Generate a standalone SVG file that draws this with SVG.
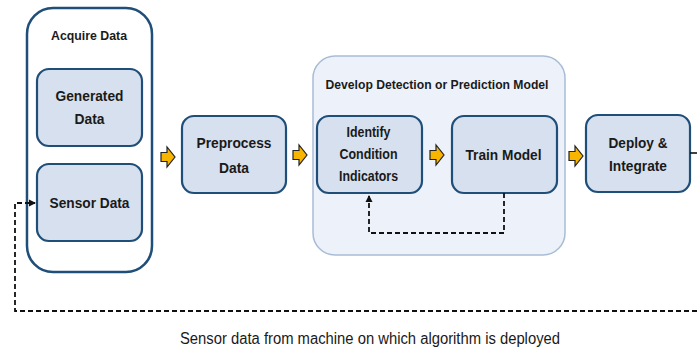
<svg xmlns="http://www.w3.org/2000/svg" width="697" height="354" viewBox="0 0 697 354">
<style>
.box{fill:#d6e0ee;stroke:#1f4e79;stroke-width:2.2}
.lbl{font-family:"Liberation Sans",Arial,sans-serif;font-weight:bold;font-size:15px;fill:#1a1a1a;text-anchor:middle}
.ttl{font-family:"Liberation Sans",Arial,sans-serif;font-weight:bold;font-size:13px;fill:#1a1a1a;text-anchor:middle}
.dash{fill:none;stroke:#111;stroke-width:1.8;stroke-dasharray:5,3}
.yarrow{fill:#f7b500;stroke:#222;stroke-width:1.2;stroke-linejoin:miter}
</style>
<defs>
<path id="ya" d="M0,-4.5 H6 V-10 L14,0 L6,10 V4.5 H0 Z"/>
<marker id="ah" markerWidth="8" markerHeight="8" refX="6" refY="4" orient="auto" markerUnits="userSpaceOnUse">
<path d="M0,0.5 L7,4 L0,7.5 Z" fill="#111"/>
</marker>
</defs>
<rect width="697" height="354" fill="#fff"/>

<g id="acquire">
<rect x="27" y="8" width="125" height="264" rx="26" fill="#fff" stroke="#1f4e79" stroke-width="2.5"/>
<text class="ttl" x="89" y="40" textLength="76" lengthAdjust="spacingAndGlyphs">Acquire Data</text>
</g>
<g id="generated">
<rect class="box" x="37" y="69" width="105" height="77" rx="12"/>
<text class="lbl" x="89.5" y="101" textLength="68" lengthAdjust="spacingAndGlyphs">Generated</text>
<text class="lbl" x="89.5" y="124" textLength="30" lengthAdjust="spacingAndGlyphs">Data</text>
</g>
<g id="sensor">
<rect class="box" x="37" y="164" width="105" height="77" rx="12"/>
<text class="lbl" x="89.5" y="208" textLength="80" lengthAdjust="spacingAndGlyphs">Sensor Data</text>
</g>
<g id="preprocess">
<rect class="box" x="182" y="116" width="104" height="77" rx="12"/>
<text class="lbl" x="234" y="148" textLength="75" lengthAdjust="spacingAndGlyphs">Preprocess</text>
<text class="lbl" x="234" y="173" textLength="30" lengthAdjust="spacingAndGlyphs">Data</text>
</g>
<g id="develop">
<rect x="313" y="56" width="252" height="199" rx="22" fill="#edf2fa" stroke="#a8bcd6" stroke-width="1.5"/>
<text class="ttl" x="437" y="89" textLength="223" lengthAdjust="spacingAndGlyphs">Develop Detection or Prediction Model</text>
</g>
<g id="identify">
<rect class="box" x="317" y="116" width="105" height="77" rx="12"/>
<text class="lbl" x="368.5" y="137" textLength="44" lengthAdjust="spacingAndGlyphs">Identify</text>
<text class="lbl" x="368.5" y="159" textLength="58" lengthAdjust="spacingAndGlyphs">Condition</text>
<text class="lbl" x="368.5" y="181" textLength="59" lengthAdjust="spacingAndGlyphs">Indicators</text>
</g>
<g id="train">
<rect class="box" x="452" y="116" width="105" height="77" rx="12"/>
<text class="lbl" x="503.5" y="160" textLength="76" lengthAdjust="spacingAndGlyphs">Train Model</text>
</g>
<g id="deploy">
<rect class="box" x="586" y="115" width="104" height="77" rx="12"/>
<text class="lbl" x="638" y="148" textLength="59" lengthAdjust="spacingAndGlyphs">Deploy &amp;</text>
<text class="lbl" x="638" y="171" textLength="58" lengthAdjust="spacingAndGlyphs">Integrate</text>
</g>

<g id="connectors">
<use href="#ya" class="yarrow" x="161" y="157"/>
<use href="#ya" class="yarrow" x="293" y="155"/>
<use href="#ya" class="yarrow" x="430" y="155"/>
<use href="#ya" class="yarrow" x="569" y="156"/>
<path class="dash" d="M504,193 V233 H369 V196" marker-end="url(#ah)"/>
<line x1="690" y1="153" x2="697" y2="153" stroke="#111" stroke-width="1.6"/>
<path class="dash" d="M697,311 H15 V203 H35" marker-end="url(#ah)"/>
</g>
<text x="370" y="344" font-family="'Liberation Sans',Arial,sans-serif" font-size="16" fill="#1a1a1a" text-anchor="middle" textLength="380" lengthAdjust="spacingAndGlyphs">Sensor data from machine on which algorithm is deployed</text>
</svg>
